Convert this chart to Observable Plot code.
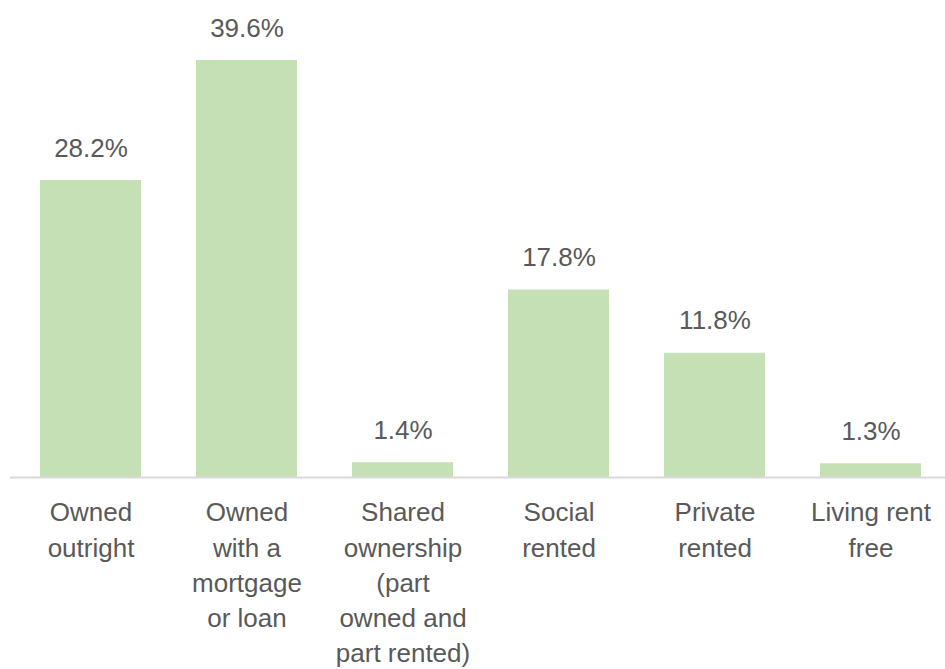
<!DOCTYPE html>
<html>
<head>
<meta charset="utf-8">
<script src="https://cdn.jsdelivr.net/npm/d3@7"></script>
<script src="https://cdn.jsdelivr.net/npm/@observablehq/plot@0.6"></script>
<style>
  html, body { margin: 0; padding: 0; background: #fff; }
  #chart svg { display: block; }
</style>
</head>
<body>
<div id="chart"></div>
<script>
const categories = [
  "Owned\noutright",
  "Owned\nwith a\nmortgage\nor loan",
  "Shared\nownership\n(part\nowned and\npart rented)",
  "Social\nrented",
  "Private\nrented",
  "Living rent\nfree"
];
const values = [28.2, 39.6, 1.4, 17.8, 11.8, 1.3];
const valueLabels = ["28.2%", "39.6%", "1.4%", "17.8%", "11.8%", "1.3%"];

const data = categories.map((c, i) => ({category: c, value: values[i], label: valueLabels[i]}));

const chart = Plot.plot({
  width: 945,
  height: 669,
  marginTop: 0,
  marginBottom: 0,
  marginLeft: 10,
  marginRight: 0,
  style: {fontFamily: "'Liberation Sans', Arial, sans-serif", background: "#fff"},
  x: {domain: categories, range: [10, 950], paddingInner: 0.355, paddingOuter: 0.1775, axis: null},
  y: {domain: [0, 39.6], range: [477, 60], axis: null},
  marks: [
    Plot.barY(data, {x: "category", y: "value", fill: "#c5e0b4"}),
    Plot.ruleY([0], {stroke: "#d9d9d9", strokeWidth: 2}),
    Plot.text(data, {x: "category", y: "value", text: "label", lineAnchor: "bottom", dy: -24, fontSize: 26, fill: "#595959"}),
    Plot.text(data, {x: "category", y: () => 0, text: "category", lineAnchor: "top", dy: 19, fontSize: 26, lineHeight: 1.35, fill: "#595959"})
  ]
});
document.getElementById("chart").appendChild(chart);
</script>
</body>
</html>
